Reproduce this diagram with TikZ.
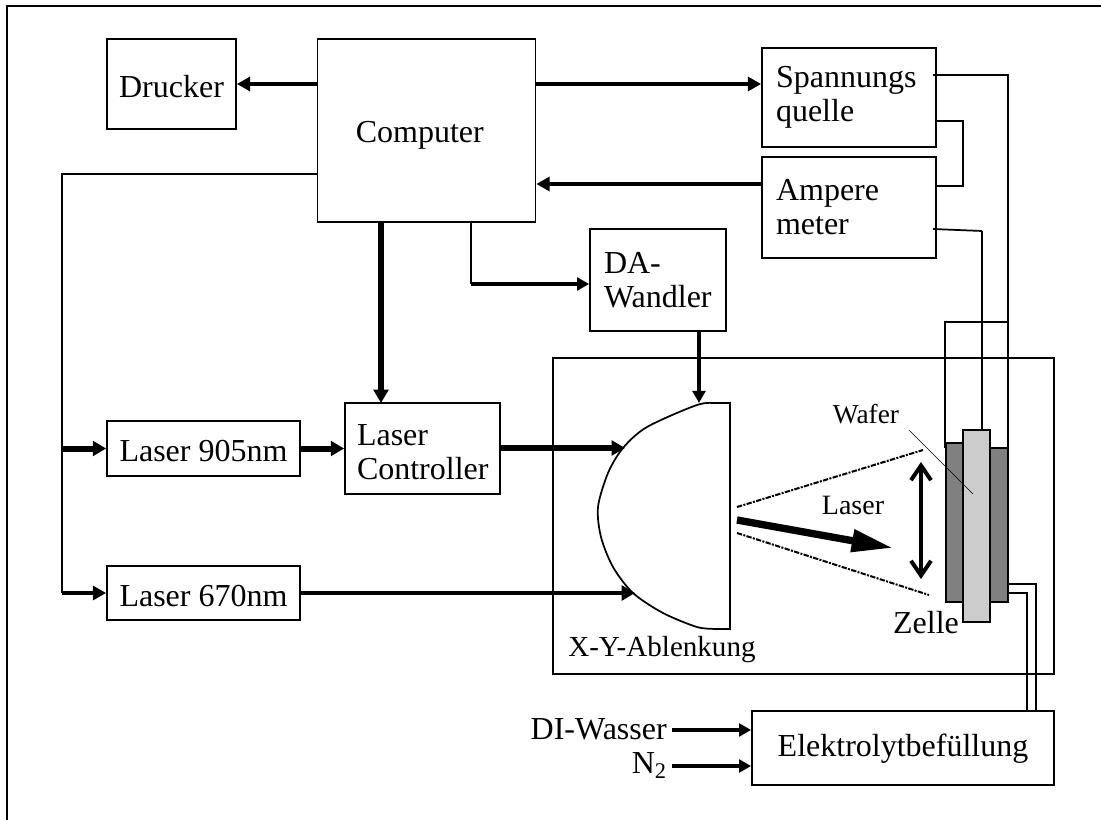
\documentclass[tikz,border=0pt]{standalone}
\usepackage{fontspec}
\setmainfont{Liberation Serif}
\usepackage{xcolor}
\definecolor{cellgrey}{HTML}{808080}
\definecolor{wafergrey}{HTML}{CCCCCC}
\usetikzlibrary{arrows.meta, positioning, calc}

\begin{document}
\begin{tikzpicture}[
  x=0.75pt, y=-0.75pt,
  every node/.style={font=\fontsize{24}{25.5}\selectfont},
  blk/.style 2 args={rectangle, draw, line width=1.3pt, inner sep=0pt, align=center,
             minimum width=#1*0.75pt, minimum height=#2*0.75pt},
  txtblk/.style n args={3}{blk={#1}{#2}, align=left, text width=#1*0.75pt-2*#3*0.75pt},
  lowtxt/.style={text height=#1, text depth=0pt},
  small/.style={font=\fontsize{20.5}{22}\selectfont, inner sep=0pt},
  wire/.style={line width=1.3pt},
  arr/.style={-{Triangle[length=10pt,width=10.5pt]}, line width=2.6pt},
  arrthin/.style={-{Triangle[length=9pt,width=9.5pt]}, line width=2.4pt},
  arrthick/.style={-{Triangle[length=10pt,width=11pt]}, line width=4.5pt},
  scan/.style={line width=1.5pt, dash pattern=on 4pt off 1pt on 1.5pt off 1pt}
]
  \useasboundingbox (0,0) rectangle (1101,820);
  \draw[line width=1.3pt] (7,820) -- (7,6) -- (1101,6);

  % boxes
  \node[blk={129}{90}, lowtxt=21pt] (drucker) at (171.5,84) {Drucker};
  \node[blk={218}{183}, text height=23pt, text depth=5pt] (computer) at (426.5,130.5) {Computer\hspace*{10pt}};
  \node[txtblk={174}{99}{14}] (spannung) at (849,97.5) {Spannungs\\quelle};
  \node[txtblk={174}{101}{14}] (ampere) at (849,207.5) {Ampere\\meter};
  \node[txtblk={136}{102}{14}] (wandler) at (658,280) {DA-\\Wandler};
  \node[txtblk={155}{91}{12}] (controller) at (422.5,448.5) {\rule{0pt}{21pt}Laser\\Controller};
  \node[blk={193}{55}, lowtxt=20pt] (laser905) at (203.5,448.5) {Laser 905nm};
  \node[blk={193}{54}, lowtxt=20pt] (laser670) at (203.5,593) {Laser 670nm};
  \node[blk={302}{74}, text height=18pt, text depth=5pt] (fuellung) at (903,748) {Elektrolytbefüllung};
  \draw[line width=1.3pt] (553,358) rectangle (1054,674);

  % scanner
  \draw[line width=1.3pt] plot[smooth] coordinates {(730,403) (718,403) (697,405) (647,427) (623,448)
    (608,473) (598,507) (601,537) (613,567) (633,593) (663,613) (697,627) (717,629) (730,629)} -- cycle;
  \coordinate (lenstop) at (699,403);
  \coordinate (lens905) at (625,448);
  \coordinate (lens670) at (635,593);

  % cell
  \draw[wire] (945,448) -- (945,322) -- (1008,322) -- (1008,448);
  \draw[wire] (982,231) -- (982,430);
  \draw[line width=1.3pt, fill=cellgrey] (946,443) -- (963,443) -- (963,448) -- (1008,448)
    -- (1008,602) -- (946,602) -- cycle;
  \node[rectangle, draw, line width=1.3pt, fill=wafergrey, inner sep=0pt,
        minimum width=27*0.75pt, minimum height=192*0.75pt] (wafer) at (976.5,526) {};

  % labels
  \node[small] (waferlbl) at (866,414) {Wafer};
  \node[small, font=\fontsize{21}{22}\selectfont] (laserlbl) at (853,505) {Laser};
  \node[inner sep=0pt] (zelle) at (926,623) {Zelle};
  \node[small, font=\fontsize{21.8}{22}\selectfont, anchor=west] (ablenkung) at (568,650) {X-Y-Ablenkung};
  \node[small, font=\fontsize{24}{25}\selectfont, anchor=east] (diwasser) at (667,729) {DI-Wasser};
  \node[small, font=\fontsize{24}{25}\selectfont, anchor=east] (stick) at (667,766) {N\textsubscript{2}};

  % printer, source, meter
  \draw[arr] (computer.west |- drucker.east) -- (drucker.east);
  \draw[arr] (computer.east |- drucker.east) -- (spannung.west |- drucker.east);
  \coordinate (ampout) at (762,184);
  \draw[arr] (ampout) -- (computer.east |- ampout);
  \draw[wire] (933,75) -- (1008,75) -- (1008,322);
  \draw[wire] (936,121) -- (963,121) -- (963,186) -- (936,186);
  \draw[wire] (933,229) -- (982,231);

  % lasers
  \coordinate (bus) at (62,174);
  \coordinate (ctrlin) at (381,403);
  \draw[wire] (computer.west |- bus) -- (bus) -- (bus |- laser670.west);
  \draw[arrthick] (bus |- laser905.west) -- (laser905.west);
  \draw[arr] (bus |- laser670.west) -- (laser670.west);
  \draw[arrthick] (laser905.east) -- (controller.west |- laser905.east);
  \draw[arrthick] (computer.south -| ctrlin) -- (ctrlin);
  \draw[arrthick] (controller.east |- lens905) -- (lens905);
  \draw[-{Triangle[length=10pt,width=11pt]}, line width=3.2pt] (laser670.east) -- (lens670);

  % deflection
  \coordinate (tap) at (471,284);
  \draw[wire] (tap |- computer.south) -- (tap);
  \draw[arrthin] (tap) -- (wandler.west |- tap);
  \draw[arrthin] (wandler.south -| lenstop) -- (lenstop);

  % beam
  \coordinate (beamtop) at (923,450);
  \coordinate (beamlow) at (929,595);
  \draw[scan] (737,507) -- (beamtop);
  \draw[scan] (737,533) -- (beamlow);
  \draw[-{Triangle[length=31pt,width=16pt]}, line width=5.5pt] (737,520) -- (893,548);
  \draw[{Straight Barb[length=11pt,width=15pt,line width=3pt]}-{Straight Barb[length=11pt,width=15pt,line width=3pt]},
        line width=2.5pt] (921,462) -- (921,579);
  \draw[line width=0.5pt] (909,430) -- (973,494);

  % filling
  \draw[wire] (1008,584) -- (1036,584) -- (1036,711);
  \draw[wire] (1008,593) -- (1027,593) -- (1027,711);
  \draw[arrthin] (672,730) -- (fuellung.west |- 672,730);
  \draw[arrthin] (672,766) -- (fuellung.west |- 672,766);
\end{tikzpicture}
\end{document}
